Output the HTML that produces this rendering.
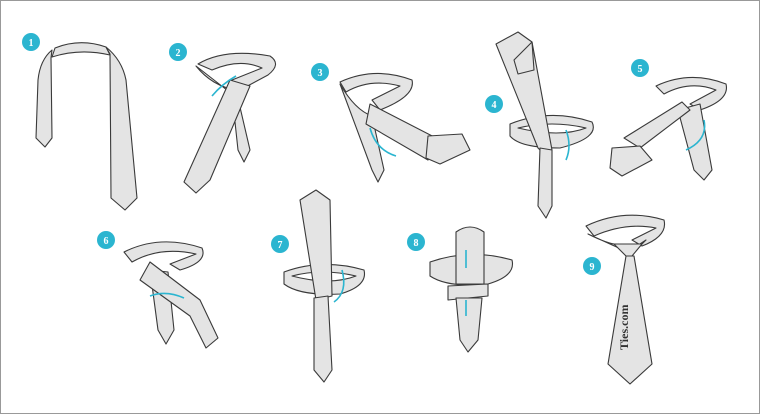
<!DOCTYPE html>
<html><head><style>
html,body{margin:0;padding:0;background:#fff}
svg{display:block}
</style></head><body>
<svg width="760" height="414" viewBox="0 0 760 414" xmlns="http://www.w3.org/2000/svg">
<rect x="0.5" y="0.5" width="759" height="413" fill="#fff" stroke="#999"/>
<g fill="#e4e4e4" stroke="#3a3a3a" stroke-width="1.1" stroke-linejoin="round">
<!-- 1 -->
<path d="M55 48 Q80 38 106 47 L110 55 Q80 48 52 57 Z"/>
<path d="M52 50 Q40 60 38 80 L36 138 L45 147 L52 138 L51 58 Z"/>
<path d="M106 47 Q122 60 126 80 L137 198 L125 210 L111 198 L110 54 Z"/>
<!-- 2 -->
<path d="M198 64 Q225 48 270 56 Q282 64 268 75 L240 90 L232 80 L262 68 Q240 58 212 70 Z"/>
<path d="M196 66 Q212 86 236 90 L250 150 L244 162 L238 150 L232 94 Z"/>
<path d="M230 80 L250 86 L210 180 L196 193 L184 182 Z"/>
<!-- 3 -->
<path d="M340 82 Q375 66 412 80 Q416 96 380 110 L372 100 L400 86 Q370 78 346 92 Z"/>
<path d="M340 84 Q355 110 372 116 L384 170 L378 182 L372 170 Z"/>
<path d="M370 104 L440 140 L428 160 L366 124 Z"/>
<path d="M428 136 L462 134 L470 150 L440 164 L426 158 Z"/>
<!-- 4 -->
<path d="M510 124 Q550 108 592 122 Q600 138 560 148 Q520 148 510 136 Z" fill="#e4e4e4"/>
<path d="M518 128 Q552 120 586 128 Q560 138 518 128 Z" fill="#fff"/>
<path d="M496 44 L518 32 L532 42 L552 150 L548 158 L538 148 Z"/>
<path d="M514 60 L532 42 L534 70 L518 74 Z"/>
<path d="M540 148 L552 150 L552 206 L546 218 L538 206 Z"/>
<!-- 5 -->
<path d="M656 86 Q690 70 726 84 Q730 100 700 110 L690 104 L716 90 Q690 80 664 94 Z"/>
<path d="M678 110 L700 104 L712 170 L704 180 L694 170 Z"/>
<path d="M690 110 L640 148 L624 138 L682 102 Z"/>
<path d="M612 148 L640 146 L652 160 L622 176 L610 168 Z"/>
<!-- 6 -->
<path d="M124 252 Q160 234 202 248 Q208 262 180 270 L170 264 L196 254 Q160 246 132 262 Z"/>
<path d="M150 270 L168 272 L174 330 L166 344 L158 330 Z"/>
<path d="M150 262 L200 300 L218 338 L206 348 L190 316 L140 280 Z"/>
<!-- 7 -->
<path d="M284 272 Q322 258 364 270 Q368 286 340 294 Q300 296 284 284 Z"/>
<path d="M292 276 Q322 268 356 276 Q330 286 292 276 Z" fill="#fff"/>
<path d="M300 200 L316 190 L330 200 L332 296 L316 300 Z"/>
<path d="M314 298 L328 296 L332 370 L324 382 L314 370 Z"/>
<!-- 8 -->
<path d="M430 262 Q470 248 512 260 Q516 276 488 284 Q448 288 430 276 Z"/>
<path d="M456 232 Q470 222 484 232 L484 284 L456 284 Z"/>
<path d="M448 286 L488 284 L488 296 L448 300 Z"/>
<path d="M456 298 L482 298 L478 340 L468 352 L460 340 Z"/>
<!-- 9 -->
<path d="M586 226 Q624 208 664 220 Q668 236 642 246 L632 240 L656 228 Q626 222 594 236 Z"/>
<path d="M588 234 Q612 246 620 244 L630 246 L640 244 L646 240 L632 254 Z"/>
<path d="M614 244 L642 244 L632 256 L626 256 Z"/>
<path d="M626 256 L634 256 L652 364 L630 384 L608 364 Z"/>
</g>
<text x="628" y="350" font-family="Liberation Serif, serif" font-weight="bold" font-size="12" fill="#333" transform="rotate(-90 628 350)">Ties.com</text>
<g fill="none" stroke="#2bb5d0" stroke-width="1.6">
<path d="M236 76 Q222 84 212 96"/><path d="M370 128 Q376 150 396 156"/>
<path d="M566 160 Q572 146 566 130"/><path d="M704 120 Q708 140 686 150"/>
<path d="M150 296 Q166 290 184 298"/><path d="M334 302 Q348 292 342 270"/>
<path d="M466 250 L466 268"/><path d="M466 300 L466 316"/>
</g>
<g fill="#2bb5d0" font-family="Liberation Serif, serif" font-weight="bold" font-size="10" text-anchor="middle">
<circle cx="31" cy="42" r="9"/><circle cx="178" cy="52" r="9"/><circle cx="320" cy="72" r="9"/>
<circle cx="494" cy="104" r="9"/><circle cx="640" cy="68" r="9"/><circle cx="106" cy="240" r="9"/>
<circle cx="280" cy="244" r="9"/><circle cx="416" cy="242" r="9"/><circle cx="592" cy="266" r="9"/>
<g fill="#fff">
<text x="31" y="46">1</text><text x="178" y="56">2</text><text x="320" y="76">3</text>
<text x="494" y="108">4</text><text x="640" y="72">5</text><text x="106" y="244">6</text>
<text x="280" y="248">7</text><text x="416" y="246">8</text><text x="592" y="270">9</text>
</g></g>
</svg>
</body></html>
